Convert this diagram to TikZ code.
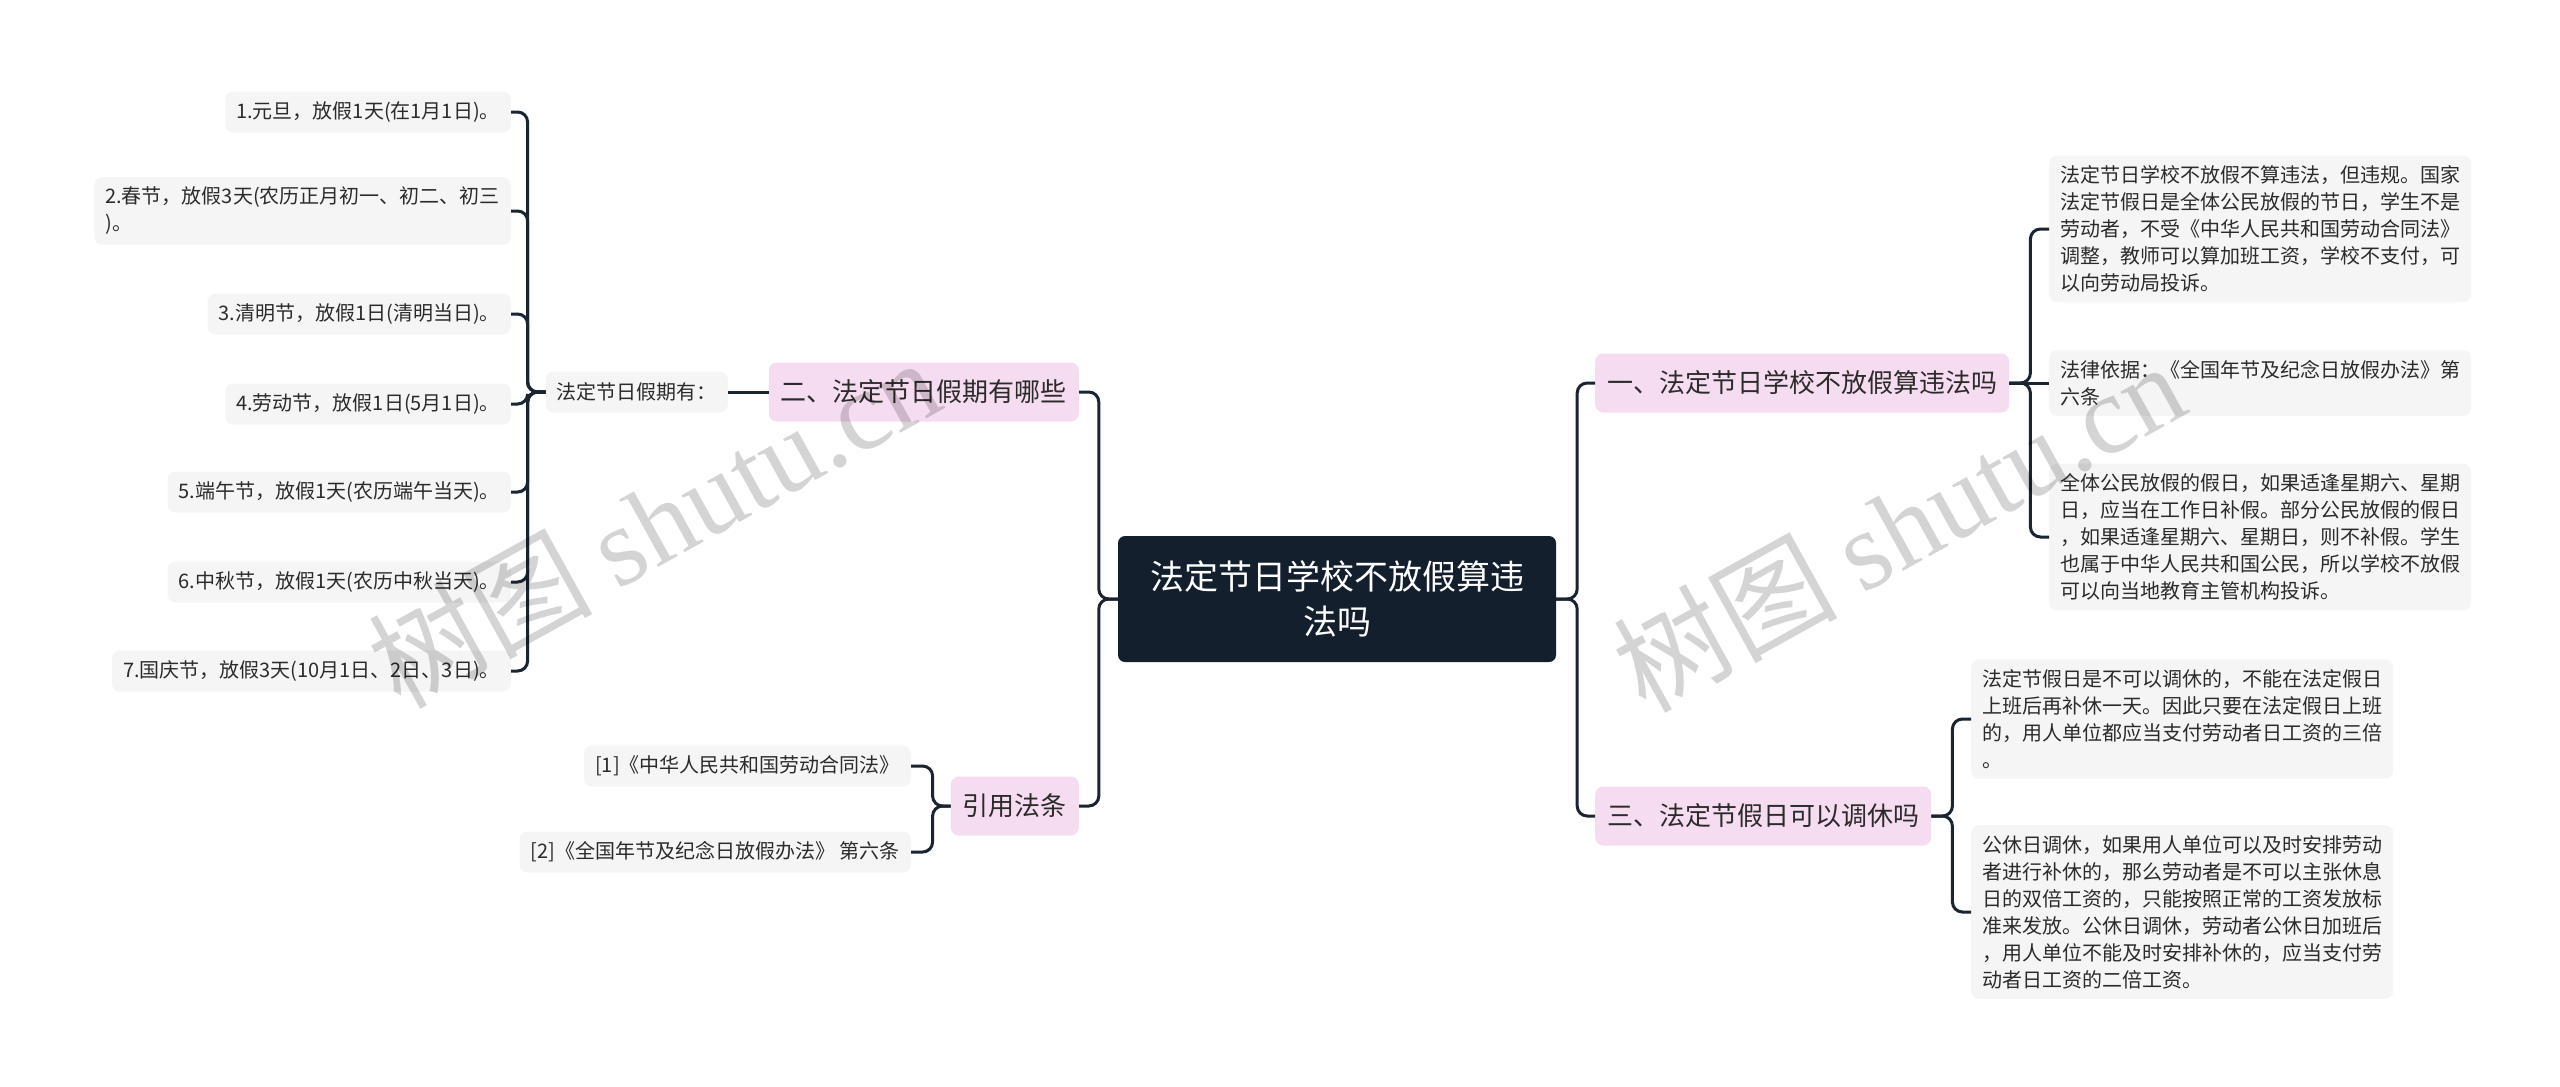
\documentclass[tikz,border=0pt]{standalone}
\usepackage{fontspec}
\setmainfont{Noto Sans CJK SC}
\newfontfamily\wmfont{Liberation Serif}
\definecolor{rootc}{HTML}{141F2E}
\definecolor{pinkc}{HTML}{F6DCF0}
\definecolor{leafc}{HTML}{F5F5F5}
\definecolor{linec}{HTML}{1B2431}
\definecolor{txtc}{HTML}{2B2B2B}
\begin{document}
\begin{tikzpicture}[x=1pt,y=-1pt,
 rootbox/.style={fill=rootc, rounded corners=7pt, text=white, font=\fontsize{34}{45}\selectfont, align=center, minimum width=438pt, minimum height=126pt, inner sep=0pt},
 branchbox/.style={fill=pinkc, rounded corners=8pt, text=txtc, font=\fontsize{26}{32}\selectfont, inner xsep=12pt, inner ysep=0pt, minimum height=59pt},
 leafbox/.style={fill=leafc, rounded corners=8pt, text=txtc, font=\fontsize{20}{27}\selectfont, align=left, inner xsep=11pt, inner ysep=10pt, minimum height=41pt},
 conn/.style={draw=linec, line width=3pt, rounded corners=10pt},
 wm/.style={text=black, text opacity=0.17, rotate=29, font=\fontsize{112}{112}\selectfont, inner sep=0pt}
]
\useasboundingbox (0,0) rectangle (2560,1087);
\fill[white] (0,0) rectangle (2560,1087);

% root
\node[rootbox] (root) at (1337,599) {法定节日学校不放假算违\\法吗};

% main branches
\node[branchbox, anchor=west] (b1) at (1595,383) {一、法定节日学校不放假算违法吗};
\node[branchbox, anchor=west] (b3) at (1595,816) {三、法定节假日可以调休吗};
\node[branchbox, anchor=east] (b2) at (1079,392) {二、法定节日假期有哪些};
\node[branchbox, anchor=east] (b4) at (1079,806) {引用法条};

% left: holidays
\node[leafbox, anchor=east] (h0) at (728,392) {法定节日假期有：};
\node[leafbox, anchor=east] (L1) at (511,112) {1.元旦，放假1天(在1月1日)。};
\node[leafbox, anchor=east] (L2) at (511,211) {2.春节，放假3天(农历正月初一、初二、初三\\)。};
\node[leafbox, anchor=east] (L3) at (511,314) {3.清明节，放假1日(清明当日)。};
\node[leafbox, anchor=east] (L4) at (511,404) {4.劳动节，放假1日(5月1日)。};
\node[leafbox, anchor=east] (L5) at (511,492) {5.端午节，放假1天(农历端午当天)。};
\node[leafbox, anchor=east] (L6) at (511,582) {6.中秋节，放假1天(农历中秋当天)。};
\node[leafbox, anchor=east] (L7) at (511,671) {7.国庆节，放假3天(10月1日、2日、3日)。};

% left: references
\node[leafbox, anchor=east] (r1) at (911,766) {[1]《中华人民共和国劳动合同法》};
\node[leafbox, anchor=east] (r2) at (911,852) {[2]《全国年节及纪念日放假办法》 第六条};

% right: branch one
\node[leafbox, anchor=west] (a1) at (2049,229) {法定节日学校不放假不算违法，但违规。国家\\法定节假日是全体公民放假的节日，学生不是\\劳动者，不受《中华人民共和国劳动合同法》\\调整，教师可以算加班工资，学校不支付，可\\以向劳动局投诉。};
\node[leafbox, anchor=west] (a2) at (2049,383) {法律依据：《全国年节及纪念日放假办法》第\\六条};
\node[leafbox, anchor=west] (a3) at (2049,537) {全体公民放假的假日，如果适逢星期六、星期\\日，应当在工作日补假。部分公民放假的假日\\，如果适逢星期六、星期日，则不补假。学生\\也属于中华人民共和国公民，所以学校不放假\\可以向当地教育主管机构投诉。};

% right: branch three
\node[leafbox, anchor=west] (c1) at (1971,719) {法定节假日是不可以调休的，不能在法定假日\\上班后再补休一天。因此只要在法定假日上班\\的，用人单位都应当支付劳动者日工资的三倍\\。};
\node[leafbox, anchor=west] (c2) at (1971,912) {公休日调休，如果用人单位可以及时安排劳动\\者进行补休的，那么劳动者是不可以主张休息\\日的双倍工资的，只能按照正常的工资发放标\\准来发放。公休日调休，劳动者公休日加班后\\，用人单位不能及时安排补休的，应当支付劳\\动者日工资的二倍工资。};

% connectors
\draw[conn] (root.east) -- ++(21,0) |- (b1.west);
\draw[conn] (root.east) -- ++(21,0) |- (b3.west);
\draw[conn] (root.west) -- ++(-19,0) |- (b2.east);
\draw[conn] (root.west) -- ++(-19,0) |- (b4.east);
\draw[conn] (b2.west) -- (h0.east);
\foreach \n in {L1,L2,L3,L4,L5,L6,L7}{
  \draw[conn] (h0.west) -- ++(-18,0) |- (\n.east);
}
\draw[conn] (b4.west) -- ++(-18,0) |- (r1.east);
\draw[conn] (b4.west) -- ++(-18,0) |- (r2.east);
\draw[conn] (b1.east) -- ++(21,0) |- (a1.west);
\draw[conn] (b1.east) -- (a2.west);
\draw[conn] (b1.east) -- ++(21,0) |- (a3.west);
\draw[conn] (b3.east) -- ++(21,0) |- (c1.west);
\draw[conn] (b3.east) -- ++(21,0) |- (c2.west);

% watermarks
\node[wm] (w1) at (653,522) {树图 {\wmfont shutu.cn}};
\node[wm] (w2) at (1898,526) {树图 {\wmfont shutu.cn}};
\end{tikzpicture}
\end{document}
